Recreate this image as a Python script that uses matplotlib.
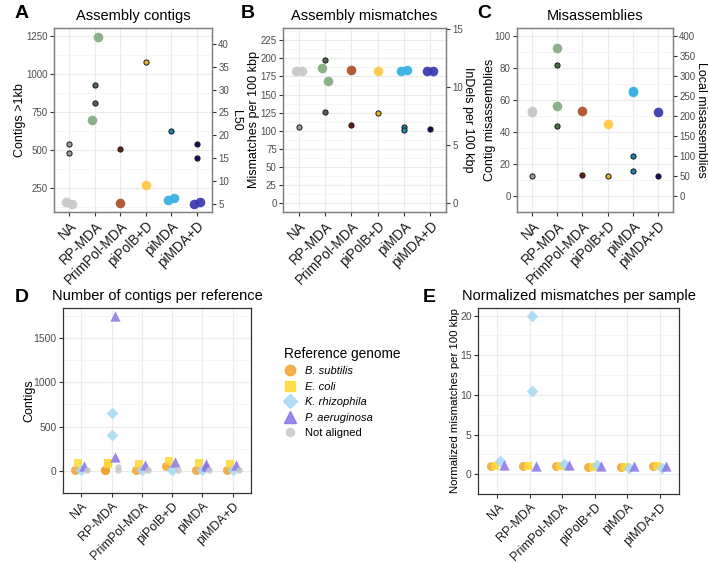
"""Assembly quality panels A-E"""

import matplotlib.pyplot as plt
from matplotlib.lines import Line2D
import numpy as np

plt.rcParams['font.family'] = ['Liberation Sans', 'DejaVu Sans']

methods = ['NA', 'RP-MDA', 'PrimPol-MDA', 'piPolB+D', 'piMDA', 'piMDA+D']
method_colors = ['#C9C9C9', '#86AE84', '#B0532F', '#FFCA45', '#3AB2E2', '#3C3CB0']
method_dark = ['#9A9A9A', '#4C6B4A', '#6A1D0F', '#E2B227', '#1D86AE', '#0D0D5C']

# one list per method, one value per sample
contigs = [[158, 149], [702, 1245], [156], [274], [171, 189], [145, 160]]
l50 = [[18, 16], [31, 27], [17], [36], [21], [18, 15]]
mismatches = [[182, 182], [186, 168.5], [183.5], [182], [182, 184], [182, 182]]
indels = [[6.6], [12.4, 7.9], [6.7], [7.8], [6.6, 6.3], [6.4]]
contig_mis = [[52.5, 53], [92.6, 56.2], [53], [45], [65.6, 64.8], [52.2]]
local_mis = [[51], [328, 175], [53], [51], [100, 63], [51]]

refs = ['B. subtilis', 'E. coli', 'K. rhizophila', 'P. aeruginosa', 'Not aligned']
ref_colors = ['#F0A22E', '#FFD834', '#A6D8F5', '#8A75E6', '#C8C8C8']
ref_markers = ['o', 's', 'D', '^', 'o']
ref_sizes = [42, 40, 36, 55, 22]

# contigs per reference: [method][reference] -> samples
contigs_ref = [
    [[10], [83], [5], [55], [6]],
    [[10, 12], [87, 80], [655, 401], [1750, 155], [41, 8]],
    [[10], [73], [5], [62], [6]],
    [[55], [107], [10], [97], [8]],
    [[10], [83], [5], [76, 60], [8]],
    [[10], [80], [5], [62], [8]],
]
# normalized mismatches: [method][reference] -> samples (no "Not aligned")
norm_mm = [
    [[1.0], [1.0], [1.6], [1.1]],
    [[1.05], [1.05], [20.0, 10.5], [1.05]],
    [[1.0], [1.0], [1.3], [1.1]],
    [[0.95], [0.85], [1.1], [1.05]],
    [[0.9], [0.9], [0.8], [1.05]],
    [[1.0], [1.05], [0.8], [1.05]],
]

W, H = 708, 563
fig = plt.figure(figsize=(W / 100, H / 100), dpi=100)
fig.set_facecolor('w')


def px_axes(l, r, t, b):
    return fig.add_axes([l / W, (H - b) / H, (r - l) / W, (b - t) / H])


def style(ax, border='#7f7f7f', ytick=7, xtick=9.8):
    x = np.arange(len(methods))
    ax.set_xlim(-0.6, len(methods) - 0.4)
    ax.set_xticks(x)
    ax.set_xticklabels(methods, rotation=45, ha='right', rotation_mode='anchor',
                       fontsize=xtick, color='#1a1a1a')
    ax.tick_params(axis='y', labelsize=ytick, labelcolor='#4d4d4d', length=3,
                   color='#333333', pad=1.5)
    ax.tick_params(axis='x', length=3, color='#333333', pad=2)
    ax.grid(True, which='major', color='#ebebeb', lw=0.8, zorder=0)
    ax.grid(True, which='minor', axis='y', color='#f4f4f4', lw=0.6, zorder=0)
    ax.set_axisbelow(True)
    for s in ax.spines.values():
        s.set_color(border)
        s.set_linewidth(0.9)


def ylab(ax, text, xpos, size=9):
    ax.set_ylabel(text, fontsize=size)
    ax.yaxis.label.set_va('center')
    ax.yaxis.set_label_coords(xpos, 0.5)


def minor_y(ax, step):
    lo, hi = ax.get_ylim()
    ax.set_yticks(np.arange(np.floor(lo / step) * step + step / 2, hi, step), minor=True)
    ax.tick_params(axis='y', which='minor', length=0)


def dodge(vals, spread):
    n = len(vals)
    if n == 1:
        return [0.0]
    return list(np.linspace(-spread, spread, n))


def big_small(ax, big, small, scale, spread):
    for i, (bv, sv) in enumerate(zip(big, small)):
        off = dodge(bv, spread)
        ax.scatter([i + o for o in off], bv, s=48, color=method_colors[i],
                   alpha=0.95, lw=0, zorder=3)
        ax.scatter([i] * len(sv), [v * scale for v in sv], s=14, color=method_dark[i],
                   edgecolor='#1a1a1a', lw=0.7, zorder=4)


def twin(ax, scale, ticks, label, xpos):
    ax2 = ax.twinx()
    lo, hi = ax.get_ylim()
    ax2.set_ylim(lo / scale, hi / scale)
    ax2.set_yticks(ticks)
    ax2.tick_params(axis='y', labelsize=7, labelcolor='#4d4d4d', length=3,
                    color='#333333', pad=1.5)
    ax2.set_ylabel(label, rotation=-90, fontsize=9)
    ax2.yaxis.label.set_va('center')
    ax2.yaxis.set_label_coords(xpos, 0.5)
    for s in ax2.spines.values():
        s.set_color('#7f7f7f')
        s.set_linewidth(0.9)
    return ax2


def panel_tag(x, y, t):
    fig.text(x / W, 1 - y / H, t, fontsize=14, fontweight='bold', va='center', ha='left')


# A
axA = px_axes(54, 212, 28, 212)
style(axA)
big_small(axA, contigs, l50, 30, 0.12)
axA.set_ylim(95, 1305)
axA.set_yticks([250, 500, 750, 1000, 1250])
minor_y(axA, 250)
ylab(axA, 'Contigs >1kb', -0.215)
axA.set_title('Assembly contigs', fontsize=10.5, pad=6)
twin(axA, 30, [5, 10, 15, 20, 25, 30, 35, 40], 'L50', 1.15)

# B
axB = px_axes(283, 446, 28, 212)
style(axB)
big_small(axB, mismatches, indels, 16, 0.12)
axB.set_ylim(-11.5, 242)
axB.set_yticks(np.arange(0, 226, 25))
minor_y(axB, 25)
ylab(axB, 'Mismatches per 100 kbp', -0.18)
axB.set_title('Assembly mismatches', fontsize=10.5, pad=6)
twin(axB, 16, [0, 5, 10, 15], 'InDels per 100 kbp', 1.135)

# C
axC = px_axes(517, 673, 28, 212)
style(axC)
big_small(axC, contig_mis, [[v / 4 for v in s] for s in local_mis], 1, 0.0)
axC.set_ylim(-5, 105)
axC.set_yticks(np.arange(0, 101, 20))
minor_y(axC, 20)
ylab(axC, 'Contig misassemblies', -0.175)
axC.set_title('Misassemblies', fontsize=10.5, pad=6)
twin(axC, 0.25, np.arange(0, 401, 50), 'Local misassemblies', 1.18)


def ref_panel(ax, data, nref, spread):
    offs = np.linspace(-spread, spread, nref)
    for i, per_ref in enumerate(data):
        for r in range(nref):
            vals = per_ref[r]
            ax.scatter([i + offs[r]] * len(vals), vals, s=ref_sizes[r], marker=ref_markers[r],
                       color=ref_colors[r], alpha=0.85, lw=0, zorder=3)


# D
axD = px_axes(63, 251, 308, 493)
style(axD, border='#333333', ytick=7.5, xtick=9)
ref_panel(axD, contigs_ref, 5, 0.2)
axD.set_ylim(-87.5, 1837.5)
axD.set_yticks([0, 500, 1000, 1500])
minor_y(axD, 500)
ylab(axD, 'Contigs', -0.181)
axD.set_title('Number of contigs per reference', fontsize=10.5, pad=6)

# E
axE = px_axes(478, 679, 308, 494)
style(axE, border='#333333', ytick=7.5, xtick=9)
ref_panel(axE, norm_mm, 4, 0.2)
axE.set_ylim(-0.16, 20.96)
axE.set_yticks([0, 5, 10, 15, 20])
minor_y(axE, 5)
ylab(axE, 'Normalized mismatches per 100 kbp', -0.115, size=8.2)
axE.set_title('Normalized mismatches per sample', fontsize=10.5, pad=6)

# legend
handles = [Line2D([], [], ls='none', marker=m, color=c, alpha=0.85, markersize=np.sqrt(s) + 1)
           for m, c, s in zip(ref_markers, ref_colors, ref_sizes)]
leg = fig.legend(handles, refs, loc='upper left', bbox_to_anchor=(278 / W, 1 - 341 / H),
                 frameon=False, title='Reference genome', alignment='left',
                 fontsize=8, title_fontsize=9.8, handletextpad=0.7, labelspacing=0.5,
                 handlelength=1.2, borderpad=0)
for t in leg.get_texts()[:4]:
    t.set_fontstyle('italic')

panel_tag(15, 14, 'A')
panel_tag(241, 14, 'B')
panel_tag(477, 14, 'C')
panel_tag(15, 298, 'D')
panel_tag(423, 297, 'E')

fig.savefig('out.png', dpi=100)
